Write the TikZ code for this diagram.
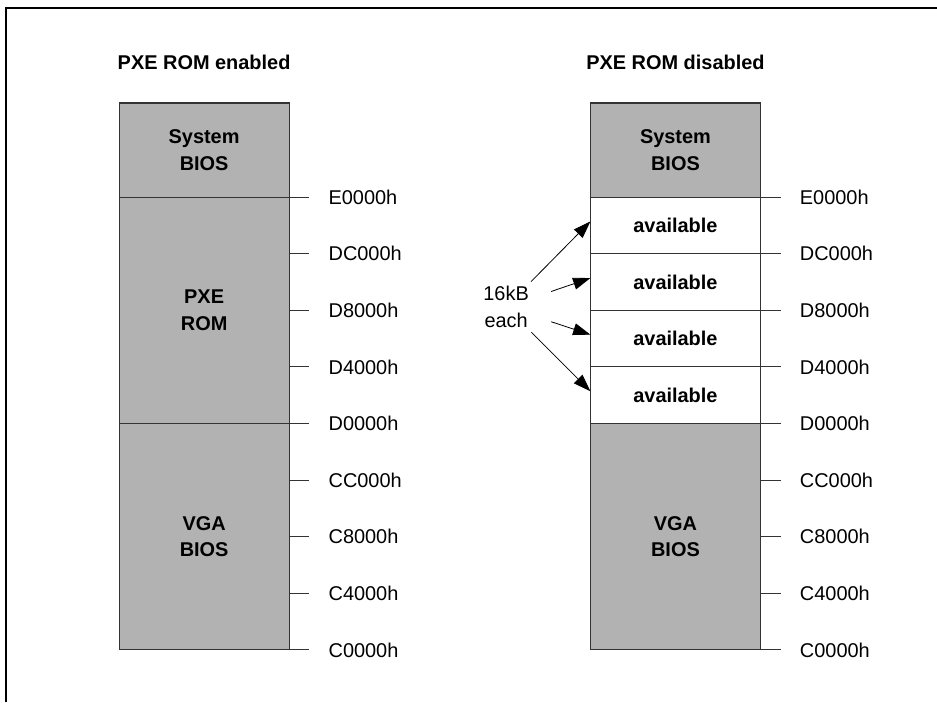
\documentclass[tikz,border=0pt]{standalone}
\usepackage{fontspec}
\setmainfont{Liberation Sans}
\usetikzlibrary{arrows.meta, positioning, calc}

\begin{document}
\begin{tikzpicture}[
    node distance=0pt,
    every node/.style={font=\fontsize{15}{20}\selectfont},
    region/.style={rectangle, draw=black!80, line width=0.8pt, fill=black!30, minimum width=4.5cm, outer sep=0pt, align=center, font=\fontsize{15}{20}\selectfont\bfseries},
    freeblk/.style={region, fill=white, minimum height=1.4975cm},
    heading/.style={font=\fontsize{15}{20}\selectfont\bfseries},
    addr/.style={inner sep=0pt},
    tick/.style={draw=black!80, line width=0.8pt},
    arrow/.style={-{Triangle[length=13pt, width=9pt]}, line width=0.6pt}
]
    \useasboundingbox (0,0) rectangle (24.79,-18.575);
    % page frame
    \draw[line width=1.1pt] (0.16,-18.575) -- (0.16,-0.21) -- (24.79,-0.21);

    % Left map: PXE ROM enabled
    \node[region, minimum height=2.49cm] (lsys) at (5.4,-3.97) {System\\BIOS};
    \node[region, minimum height=5.99cm, below=of lsys] (lpxe) {PXE\\ROM};
    \node[region, minimum height=5.99cm, below=of lpxe] (lvga) {VGA\\BIOS};
    \node[heading, above=0.75cm of lsys] (ltitle) {PXE ROM enabled};

    % Right map: PXE ROM disabled
    \node[region, minimum height=2.49cm] (rsys) at (17.87,-3.97) {System\\BIOS};
    \node[freeblk, below=of rsys] (ra1) {available};
    \node[freeblk, below=of ra1] (ra2) {available};
    \node[freeblk, below=of ra2] (ra3) {available};
    \node[freeblk, below=of ra3] (ra4) {available};
    \node[region, minimum height=5.99cm, below=of ra4] (rvga) {VGA\\BIOS};
    \node[heading, above=0.75cm of rsys] (rtitle) {PXE ROM disabled};

    % Address ticks
    \foreach \a [count=\i from 0] in {E0000h,DC000h,D8000h,D4000h,D0000h,CC000h,C8000h,C4000h,C0000h}{
        \draw[tick] ($(lsys.south east)+(0,-\i*1.4975)$) -- ++(0.53,0) node[addr, right=0.5cm] (laddr\i) {\a};
        \draw[tick] ($(rsys.south east)+(0,-\i*1.4975)$) -- ++(0.53,0) node[addr, right=0.5cm] (raddr\i) {\a};
    }

    % 16kB blocks
    \node[align=center] (each) at (13.39,-8.12) {16kB\\each};
    \draw[arrow] (each) -- ([yshift=3pt]ra1.west);
    \draw[arrow, shorten <=14pt] (each) -- ([yshift=3pt]ra2.west);
    \draw[arrow, shorten <=14pt] (each) -- ([yshift=3pt]ra3.west);
    \draw[arrow] (each) -- ([yshift=3pt]ra4.west);
\end{tikzpicture}
\end{document}
